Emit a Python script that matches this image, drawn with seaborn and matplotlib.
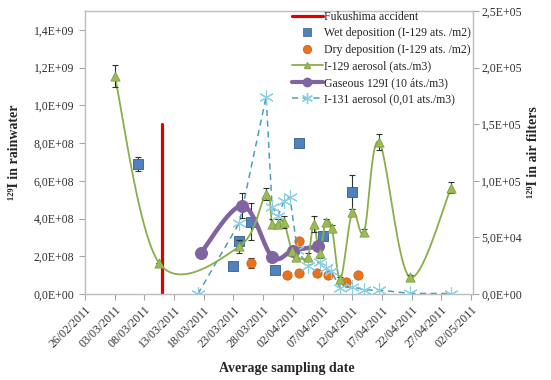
import numpy as np
import pandas as pd
import seaborn as sns
import matplotlib
matplotlib.use("Agg")
import matplotlib.pyplot as plt
import matplotlib.dates as mdates
from matplotlib.lines import Line2D
from matplotlib.ticker import FuncFormatter, MultipleLocator

# ---- data ----
# Fukushima accident marker (left axis)
fukushima_dates = ["2011-03-11", "2011-03-11"]
fukushima_vals = [0, 9.0e8]

# Wet deposition (left axis, at/m2)
wet_dates = ["2011-03-07", "2011-03-23", "2011-03-24", "2011-03-26",
             "2011-03-30", "2011-04-03", "2011-04-07", "2011-04-12"]
wet_vals = [6.88e8, 1.49e8, 2.81e8, 3.84e8, 1.27e8, 8.0e8, 3.08e8, 5.4e8]
wet_err = [3.8e7, 0, 1.5e7, 9.7e7, 0, 1.5e7, 2.0e7, 9.2e7]

# Dry deposition (left axis, at/m2)
dry_dates = ["2011-03-26", "2011-04-01", "2011-04-03", "2011-04-03",
             "2011-04-06", "2011-04-08", "2011-04-11", "2011-04-13"]
dry_vals = [1.66e8, 1.01e8, 1.10e8, 2.81e8, 1.13e8, 1.01e8, 6.5e7, 1.01e8]
dry_err = [2.7e7, 0, 0, 0, 0, 0, 0, 0]

# I-129 aerosol (right axis, at/m3)
aer_dates = ["2011-03-03 00:00", "2011-03-10 12:00", "2011-03-24 00:00",
             "2011-03-28 12:00", "2011-03-29 12:00", "2011-03-30 12:00",
             "2011-03-31 12:00", "2011-04-01 19:00", "2011-04-02 12:00",
             "2011-04-04 12:00", "2011-04-05 12:00", "2011-04-06 12:00",
             "2011-04-07 12:00", "2011-04-08 14:00", "2011-04-10 00:00",
             "2011-04-12 00:00", "2011-04-14 00:00", "2011-04-16 12:00",
             "2011-04-21 16:00", "2011-04-28 16:00"]
aer_vals = [1.926e5, 2.71e4, 4.2e4, 8.83e4, 6.2e4, 6.2e4, 6.35e4, 3.8e4,
            3.3e4, 3.3e4, 6.2e4, 3.6e4, 6.35e4, 5.8e4, 1.33e4, 7.2e4,
            5.5e4, 1.345e5, 1.5e4, 9.4e4]
aer_err = [1.0e4, 0, 6e3, 5e3, 4e3, 4e3, 5e3, 3e3, 3e3, 3e3, 7e3, 4e3,
           3e3, 3e3, 2e3, 3e3, 2e3, 7e3, 2e3, 5e3]

# Gaseous 129I (right axis, 10 at/m3)
gas_dates = ["2011-03-17 12:00", "2011-03-24 12:00", "2011-03-29 12:00",
             "2011-04-02 00:00", "2011-04-06 06:00"]
gas_vals = [3.62e4, 7.8e4, 3.3e4, 3.84e4, 4.2e4]
gas_err = [0, 1.1e4, 0, 0, 0]

# I-131 aerosol (right axis, 0.01 at/m3)
i131_dates = ["2011-03-17 00:00", "2011-03-24 00:00", "2011-03-28 12:00",
              "2011-03-29 12:00", "2011-03-30 12:00", "2011-03-31 12:00",
              "2011-04-01 12:00", "2011-04-02 18:00", "2011-04-04 12:00",
              "2011-04-06 12:00", "2011-04-07 12:00", "2011-04-08 12:00",
              "2011-04-10 00:00", "2011-04-12 00:00", "2011-04-14 00:00",
              "2011-04-16 12:00", "2011-04-21 16:00", "2011-04-28 16:00"]
i131_vals = [0, 6.3e4, 1.743e5, 7.7e4, 6.9e4, 8.2e4, 8.6e4, 3.9e4, 2.5e4,
             2.85e4, 2.3e4, 2.0e4, 4.9e3, 6.6e3, 3.5e3, 3.5e3, 6e2, 4e2]

tick_dates = ["2011-02-26", "2011-03-03", "2011-03-08", "2011-03-13",
              "2011-03-18", "2011-03-23", "2011-03-28", "2011-04-02",
              "2011-04-07", "2011-04-12", "2011-04-17", "2011-04-22",
              "2011-04-27", "2011-05-02"]


def dnum(lst):
    return mdates.date2num(pd.to_datetime(lst))


X0, X1 = dnum(["2011-02-26"])[0], dnum(["2011-05-02 08:00"])[0]
YL, YR = 1.5e9, 2.5e5
AX_W, AX_H = 388.0, 283.0


def smooth(x, y, ymax, n=24):
    # Excel-like smoothed line (bezier through points), computed in pixel space
    px = (np.asarray(x) - X0) / (X1 - X0) * AX_W
    py = np.asarray(y) / ymax * AX_H
    P = np.column_stack([px, py])
    P = np.vstack([P[0], P, P[-1]])
    out = []
    t = np.linspace(0, 1, n)[:, None]
    for i in range(1, len(P) - 2):
        p0, p1 = P[i], P[i + 1]
        b1 = p0 + (P[i + 1] - P[i - 1]) / 6
        b2 = p1 - (P[i + 2] - P[i]) / 6
        seg = ((1 - t) ** 3) * p0 + 3 * ((1 - t) ** 2) * t * b1 \
            + 3 * (1 - t) * t ** 2 * b2 + t ** 3 * p1
        out.append(seg)
    c = np.vstack(out)
    return c[:, 0] / AX_W * (X1 - X0) + X0, c[:, 1] / AX_H * ymax


sns.set_theme(style="white")
plt.rcParams['font.family'] = ['Liberation Serif', 'DejaVu Serif']

fig = plt.figure(figsize=(5.51, 3.80), dpi=100)
ax = fig.add_axes([85 / 551, 1 - 294 / 380, 388 / 551, 283 / 380])
ax2 = ax.twinx()

blue, orange, green = "#4f81bd", "#e8731c", "#9bbb59"
purple, teal, red = "#8064a2", "#4a9fb8", "#e00000"
errc = "#303030"

# left axis: Fukushima + deposition
sns.lineplot(x=dnum(fukushima_dates), y=fukushima_vals, ax=ax, color=red,
             lw=2.3, estimator=None, sort=False)
ax.errorbar(dnum(wet_dates), wet_vals, yerr=wet_err, fmt="none",
            ecolor=errc, elinewidth=0.8, capsize=2.2, capthick=0.8)
sns.scatterplot(x=dnum(wet_dates), y=wet_vals, ax=ax, marker="s", s=50,
                color=blue, edgecolor="#385d8a", linewidth=0.6, zorder=3)
ax.errorbar(dnum(dry_dates), dry_vals, yerr=dry_err, fmt="none",
            ecolor=errc, elinewidth=0.8, capsize=2.2, capthick=0.8)
sns.scatterplot(x=dnum(dry_dates), y=dry_vals, ax=ax, marker="o", s=45,
                color=orange, edgecolor="#c05a10", linewidth=0.5, zorder=3)

# right axis: air filters
ax_x = dnum(i131_dates)
sns.lineplot(x=ax_x, y=i131_vals, ax=ax2, color=teal, lw=1.1,
             linestyle=(0, (4, 3)), estimator=None, sort=False)
sns.scatterplot(x=ax_x, y=i131_vals, ax=ax2, marker=(6, 2, 0), s=100,
                color="#8ccfe3", linewidth=0.8, zorder=3)

gx, gy = smooth(dnum(gas_dates), gas_vals, YR)
sns.lineplot(x=gx, y=gy, ax=ax2, color=purple, lw=3.2, estimator=None,
             sort=False)
ax2.errorbar(dnum(gas_dates), gas_vals, yerr=gas_err, fmt="none",
             ecolor=errc, elinewidth=0.8, capsize=2.2, capthick=0.8)
sns.scatterplot(x=dnum(gas_dates), y=gas_vals, ax=ax2, marker="o", s=75,
                color=purple, edgecolor=purple, zorder=4)

cx, cy = smooth(dnum(aer_dates), aer_vals, YR)
sns.lineplot(x=cx, y=cy, ax=ax2, color="#8cad4c", lw=1.3, estimator=None,
             sort=False)
ax2.errorbar(dnum(aer_dates), aer_vals, yerr=aer_err, fmt="none",
             ecolor=errc, elinewidth=0.8, capsize=2.2, capthick=0.8)
sns.scatterplot(x=dnum(aer_dates), y=aer_vals, ax=ax2, marker="^", s=45,
                color=green, edgecolor="#7a9a3a", linewidth=0.5, zorder=4)

# axes formatting
ax.set_xlim(X0, X1)
ax.set_ylim(0, YL)
ax2.set_ylim(0, YR)
ax.yaxis.set_major_locator(MultipleLocator(2e8))
ax2.yaxis.set_major_locator(MultipleLocator(5e4))
fmt = FuncFormatter(lambda v, p: f"{v:.1E}".replace(".", ","))
ax.yaxis.set_major_formatter(fmt)
ax2.yaxis.set_major_formatter(fmt)
ax.set_xticks(dnum(tick_dates))
ax.set_xticklabels([pd.Timestamp(d).strftime("%d/%m/%Y") for d in tick_dates],
                   rotation=45, ha="right", rotation_mode="anchor")

for a in (ax, ax2):
    for s in a.spines.values():
        s.set_color("#bfbfbf")
        s.set_linewidth(0.9)
    a.tick_params(axis="both", which="major", length=4, width=0.8,
                  color="#a6a6a6", labelsize=8.5, labelcolor="#303030",
                  direction="out")
ax.tick_params(axis="y", left=True, right=False)
ax.tick_params(axis="x", bottom=True, pad=3)
ax2.tick_params(axis="y", right=True, pad=2)

ax.set_xlabel("Average sampling date", fontsize=10, fontweight="bold")
ax.xaxis.set_label_coords(0.52, -0.24)
ax.set_ylabel("¹²⁹I in rainwater", fontsize=10, fontweight="bold")
ax.yaxis.set_label_coords(-0.165, 0.5)
ax2.set_ylabel("¹²⁹I in air filters", fontsize=10, fontweight="bold")
ax2.yaxis.set_label_coords(1.14, 0.5)

handles = [
    Line2D([], [], color=red, lw=2.3),
    Line2D([], [], color=blue, marker="s", ls="none", ms=6,
           markeredgecolor="#385d8a", markeredgewidth=0.5),
    Line2D([], [], color=orange, marker="o", ls="none", ms=6,
           markeredgecolor="#c05a10", markeredgewidth=0.5),
    Line2D([], [], color="#8cad4c", lw=1.3, marker="^", ms=5,
           markerfacecolor=green),
    Line2D([], [], color=purple, lw=3, marker="o", ms=6),
    Line2D([], [], color=teal, lw=1.1, ls=(0, (4, 3)), marker=(6, 2, 0),
           ms=8, markeredgecolor="#8ccfe3"),
]
labels = ["Fukushima accident", "Wet deposition (I-129 ats. /m2)",
          "Dry deposition (I-129 ats. /m2)", "I-129 aerosol (ats./m3)",
          "Gaseous 129I (10 áts./m3)", "I-131 aerosol (0,01 ats./m3)"]
ax2.legend(handles, labels, loc="upper left",
           bbox_to_anchor=(292 / 551, 1 - 11 / 380),
           bbox_transform=fig.transFigure, frameon=False, fontsize=8.5,
           handlelength=2.6, handletextpad=0.1, labelspacing=0.38,
           borderaxespad=0, borderpad=0)

fig.savefig("out.png", dpi=100)
